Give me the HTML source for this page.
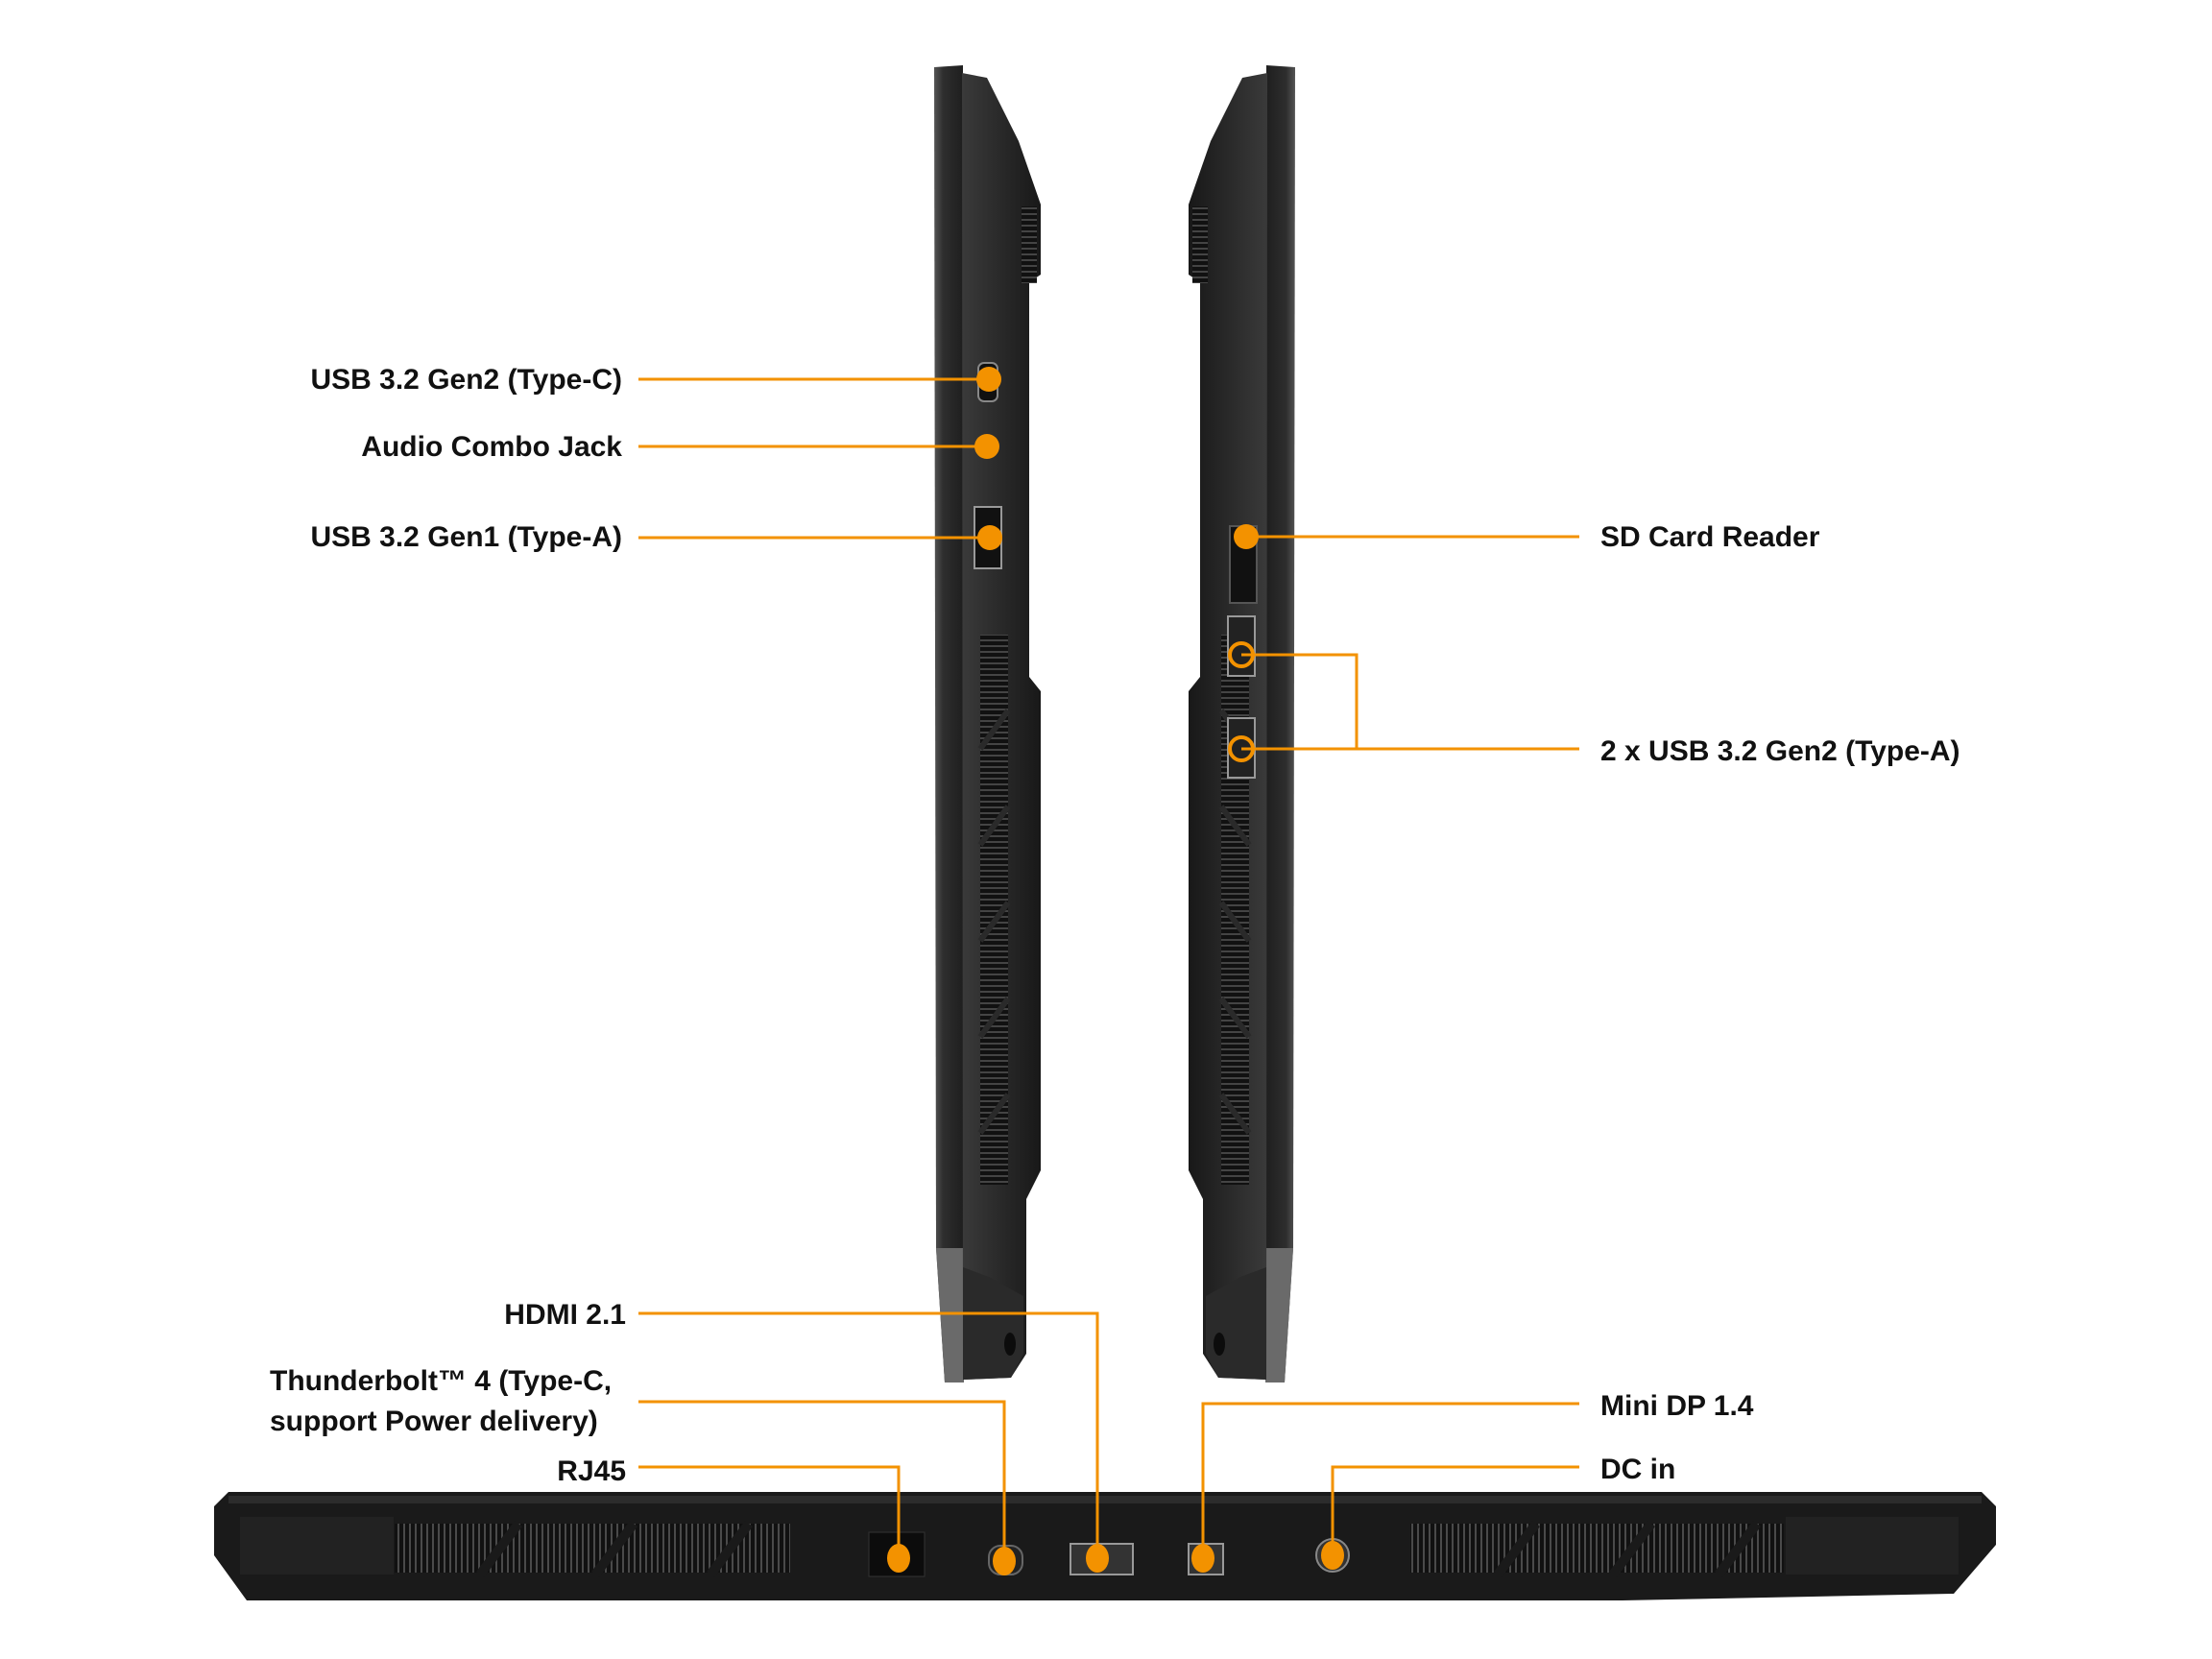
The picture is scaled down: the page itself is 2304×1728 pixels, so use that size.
<!DOCTYPE html>
<html><head><meta charset="utf-8"><style>
html,body{margin:0;padding:0;background:#fff}
body{width:2304px;height:1728px;overflow:hidden;position:relative}
svg{position:absolute;left:0;top:0}
.t{font-family:"Liberation Sans",sans-serif;font-weight:bold;font-size:30px;fill:#111}
</style></head><body>
<svg width="2304" height="1728" viewBox="0 0 2304 1728">
<defs>
<linearGradient id="lid" x1="0" x2="1"><stop offset="0" stop-color="#555"/><stop offset="0.3" stop-color="#2e2e2e"/><stop offset="1" stop-color="#1e1e1e"/></linearGradient>
<linearGradient id="bd" x1="0" x2="1"><stop offset="0" stop-color="#3a3a3a"/><stop offset="1" stop-color="#181818"/></linearGradient>
<pattern id="vent" width="4" height="6" patternUnits="userSpaceOnUse"><rect width="4" height="6" fill="#111"/><rect y="0" width="4" height="2" fill="#444"/></pattern>
<pattern id="vent2" width="6" height="4" patternUnits="userSpaceOnUse"><rect width="6" height="4" fill="#111"/><rect x="0" width="2" height="4" fill="#4a4a4a"/></pattern>
<g id="side">
<polygon points="973,70 1003,68 1004,1440 984,1440 975,1300" fill="url(#lid)"/>
<polygon points="975,1300 1003,1300 1004,1440 984,1440" fill="#6a6a6a"/>
<polygon points="1002,76 1028,81 1061,147 1084,213 1084,286 1072,294 1072,705 1084,720 1084,1219 1069,1249 1069,1410 1053,1435 1003,1437" fill="url(#bd)"/>
<rect x="1021" y="661" width="29" height="573" fill="url(#vent)"/>
<path d="M1021 780 L1050 740 M1021 880 L1050 840 M1021 980 L1050 940 M1021 1080 L1050 1040 M1021 1180 L1050 1140" stroke="#2a2a2a" stroke-width="6"/>
<rect x="1064" y="215" width="16" height="80" fill="url(#vent)"/>
<polygon points="1003,1320 1030,1330 1066,1350 1066,1410 1053,1435 1003,1437" fill="#2a2a2a"/>
<ellipse cx="1052" cy="1400" rx="6" ry="12" fill="#0c0c0c"/>
</g>
</defs>
<use href="#side"/>
<use href="#side" transform="translate(2322,0) scale(-1,1)"/>
<rect x="1019" y="378" width="20" height="40" rx="6" fill="#111" stroke="#888" stroke-width="2"/>
<rect x="1015" y="528" width="28" height="64" fill="#111" stroke="#999" stroke-width="2"/>
<rect x="1281" y="548" width="28" height="80" fill="#111" stroke="#555" stroke-width="2"/>
<rect x="1279" y="642" width="28" height="62" fill="#222" stroke="#999" stroke-width="2"/>
<rect x="1279" y="748" width="28" height="62" fill="#222" stroke="#999" stroke-width="2"/>
<polygon points="223,1569 238,1554 2064,1554 2079,1569 2079,1609 2035,1660 1690,1667 257,1667 223,1620" fill="#1a1a1a"/>
<rect x="238" y="1558" width="1826" height="8" fill="#2c2c2c"/>
<rect x="250" y="1580" width="160" height="60" fill="#222"/>
<rect x="1860" y="1580" width="180" height="60" fill="#222"/>
<rect x="411" y="1587" width="412" height="51" fill="url(#vent2)"/>
<rect x="1469" y="1587" width="389" height="51" fill="url(#vent2)"/>
<path d="M500 1640 L540 1587 M620 1640 L660 1587 M740 1640 L780 1587 M1560 1640 L1600 1587 M1680 1640 L1720 1587 M1790 1640 L1830 1587" stroke="#1a1a1a" stroke-width="10"/>
<rect x="905" y="1596" width="58" height="46" fill="#0c0c0c" stroke="#333"/>
<rect x="1030" y="1610" width="35" height="30" rx="12" fill="#222" stroke="#666" stroke-width="2"/>
<rect x="1115" y="1608" width="65" height="32" fill="#333" stroke="#999" stroke-width="2"/>
<rect x="1238" y="1608" width="36" height="32" fill="#333" stroke="#999" stroke-width="2"/>
<circle cx="1388" cy="1620" r="17" fill="#333" stroke="#888" stroke-width="2"/>
<g stroke="#f39200" stroke-width="3" fill="none">
<path d="M665 395 H1028"/>
<path d="M665 465 H1028"/>
<path d="M665 560 H1031"/>
<path d="M1298 559 H1645"/>
<path d="M1293 682 H1413 V780 H1645 M1293 780 H1413"/>
<path d="M665 1368 H1143 V1623"/>
<path d="M665 1460 H1046 V1626"/>
<path d="M665 1528 H936 V1623"/>
<path d="M1645 1462 H1253 V1623"/>
<path d="M1645 1528 H1388 V1620"/>
</g>
<g fill="#f39200">
<circle cx="1030" cy="395" r="13"/>
<circle cx="1028" cy="465" r="13"/>
<circle cx="1031" cy="560" r="13"/>
<circle cx="1298" cy="559" r="13"/>
<ellipse cx="936" cy="1623" rx="12" ry="15"/>
<ellipse cx="1046" cy="1626" rx="12" ry="15"/>
<ellipse cx="1143" cy="1623" rx="12" ry="15"/>
<ellipse cx="1253" cy="1623" rx="12" ry="15"/>
<ellipse cx="1388" cy="1620" rx="12" ry="15"/>
</g>
<g fill="none" stroke="#f39200" stroke-width="4">
<circle cx="1293" cy="682" r="12"/>
<circle cx="1293" cy="780" r="12"/>
</g>
<g class="t" text-anchor="end">
<text x="648" y="405">USB 3.2 Gen2 (Type-C)</text>
<text x="648" y="475">Audio Combo Jack</text>
<text x="648" y="569">USB 3.2 Gen1 (Type-A)</text>
<text x="652" y="1379">HDMI 2.1</text>
<text x="652" y="1542">RJ45</text>
</g>
<g class="t">
<text x="281" y="1448">Thunderbolt™ 4 (Type-C,</text>
<text x="281" y="1490">support Power delivery)</text>
<text x="1667" y="569">SD Card Reader</text>
<text x="1667" y="792">2 x USB 3.2 Gen2 (Type-A)</text>
<text x="1667" y="1474">Mini DP 1.4</text>
<text x="1667" y="1540">DC in</text>
</g>
</svg>
</body></html>
